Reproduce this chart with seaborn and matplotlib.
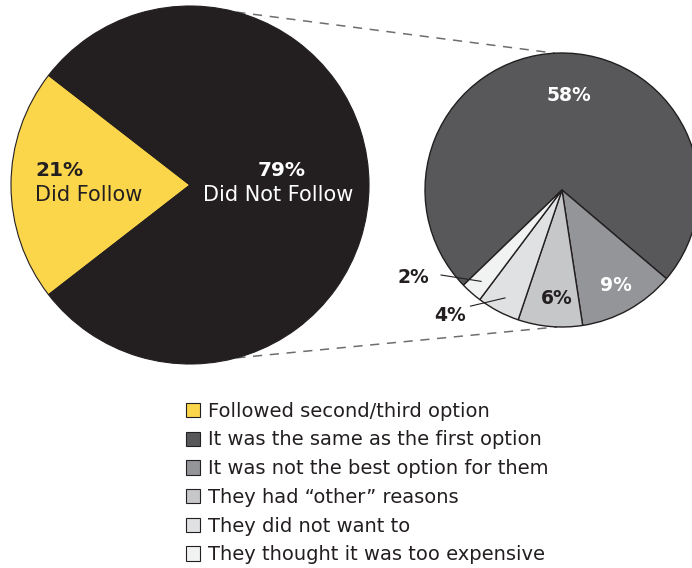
import numpy as np
import matplotlib
matplotlib.use("Agg")
import matplotlib.pyplot as plt
from matplotlib.patches import Patch
import seaborn as sns

# Share of people who followed the recommended option
follow_labels = ["Did Follow", "Did Not Follow"]
follow_values = [21, 79]
follow_colors = ["#fbd64b", "#231f20"]

# Reasons among those who did not follow (percent of all respondents)
reason_labels = [
    "It was the same as the first option",
    "It was not the best option for them",
    "They had \u201cother\u201d reasons",
    "They did not want to",
    "They thought it was too expensive",
]
reason_values = [58, 9, 6, 4, 2]
reason_colors = ["#58585a", "#939598", "#c6c7c9", "#e0e1e2", "#f1f2f2"]

legend_labels = ["Followed second/third option"] + reason_labels
legend_colors = [follow_colors[0]] + reason_colors

sns.set_theme(style="white")
plt.rcParams["font.family"] = ["DejaVu Sans"]

W, H = 692, 568
fig = plt.figure(figsize=(W / 100, H / 100), dpi=100)
ax = fig.add_axes([0, 0, 1, 1])

edge = "#231f20"

# Left pie
lc, lr = (190, H - 185), 179
yellow_span = follow_values[0] / sum(follow_values) * 360
ax.pie(follow_values, colors=follow_colors, center=lc, radius=lr,
       startangle=180 - yellow_span / 2, counterclock=True,
       wedgeprops=dict(edgecolor=edge, linewidth=0.8), frame=True)

# Right pie (breakdown of "Did Not Follow")
rc, rr = (562, H - 190), 137
wedges, _ = ax.pie(reason_values, colors=reason_colors, center=rc, radius=rr,
                   startangle=224, counterclock=False,
                   wedgeprops=dict(edgecolor=edge, linewidth=1.0), frame=True)
ax.set_xlim(0, W)
ax.set_ylim(0, H)
ax.set_aspect("equal")
ax.axis("off")


def polar(center, r, deg):
    a = np.deg2rad(deg)
    return center[0] + r * np.cos(a), center[1] + r * np.sin(a)


# Dashed connectors between the two pies
for la, ra in [(75, 93), (-75, -92)]:
    x0, y0 = polar(lc, lr, la)
    x1, y1 = polar(rc, rr, ra)
    ax.plot([x0, x1], [y0, y1], color="#6d6e71", lw=1.1,
            dashes=(6, 5), zorder=0)

# Left pie labels
ax.text(35, H - 171, f"{follow_values[0]}%", fontsize=14.5, fontweight="bold",
        color="#231f20", ha="left", va="center")
ax.text(35, H - 195, follow_labels[0], fontsize=15, color="#231f20",
        ha="left", va="center")
ax.text(282, H - 171, f"{follow_values[1]}%", fontsize=14.5, fontweight="bold",
        color="white", ha="center", va="center")
ax.text(278, H - 195, follow_labels[1], fontsize=15, color="white",
        ha="center", va="center")

# Right pie labels
mid = [(w.theta1 + w.theta2) / 2 for w in wedges]
inside = {0: (0.69, -6, "white"), 1: (0.80, 0, "white"), 2: (0.79, 2, "#231f20")}
for i, (frac, shift, col) in inside.items():
    x, y = polar(rc, rr * frac, mid[i] + shift)
    ax.text(x, y, f"{reason_values[i]}%", fontsize=13.5, fontweight="bold",
            color=col, ha="center", va="center")

outside = {4: (1.26, -18), 3: (1.23, -14)}
for i, (frac, shift) in outside.items():
    tx, ty = polar(rc, rr * frac, mid[i] + shift)
    px, py = polar(rc, rr * 0.89, mid[i])
    sx, sy = polar(rc, rr * 1.08, mid[i] + shift * 0.75)
    ax.plot([sx, px], [sy, py], color="#231f20", lw=0.8)
    ax.text(tx, ty, f"{reason_values[i]}%", fontsize=13.5, fontweight="bold",
            color="#231f20", ha="center", va="center")

# Legend
handles = [Patch(facecolor=c, edgecolor=edge, linewidth=0.8) for c in legend_colors]
leg = ax.legend(handles, legend_labels, loc="upper left",
                bbox_to_anchor=(176 / W, 1 - 392 / H), frameon=False,
                fontsize=14, handlelength=0.75, handleheight=0.75,
                handletextpad=0.4, labelspacing=0.5, borderpad=0)
for t in leg.get_texts():
    t.set_color("#231f20")

fig.savefig("out.png", dpi=100, facecolor="white")
